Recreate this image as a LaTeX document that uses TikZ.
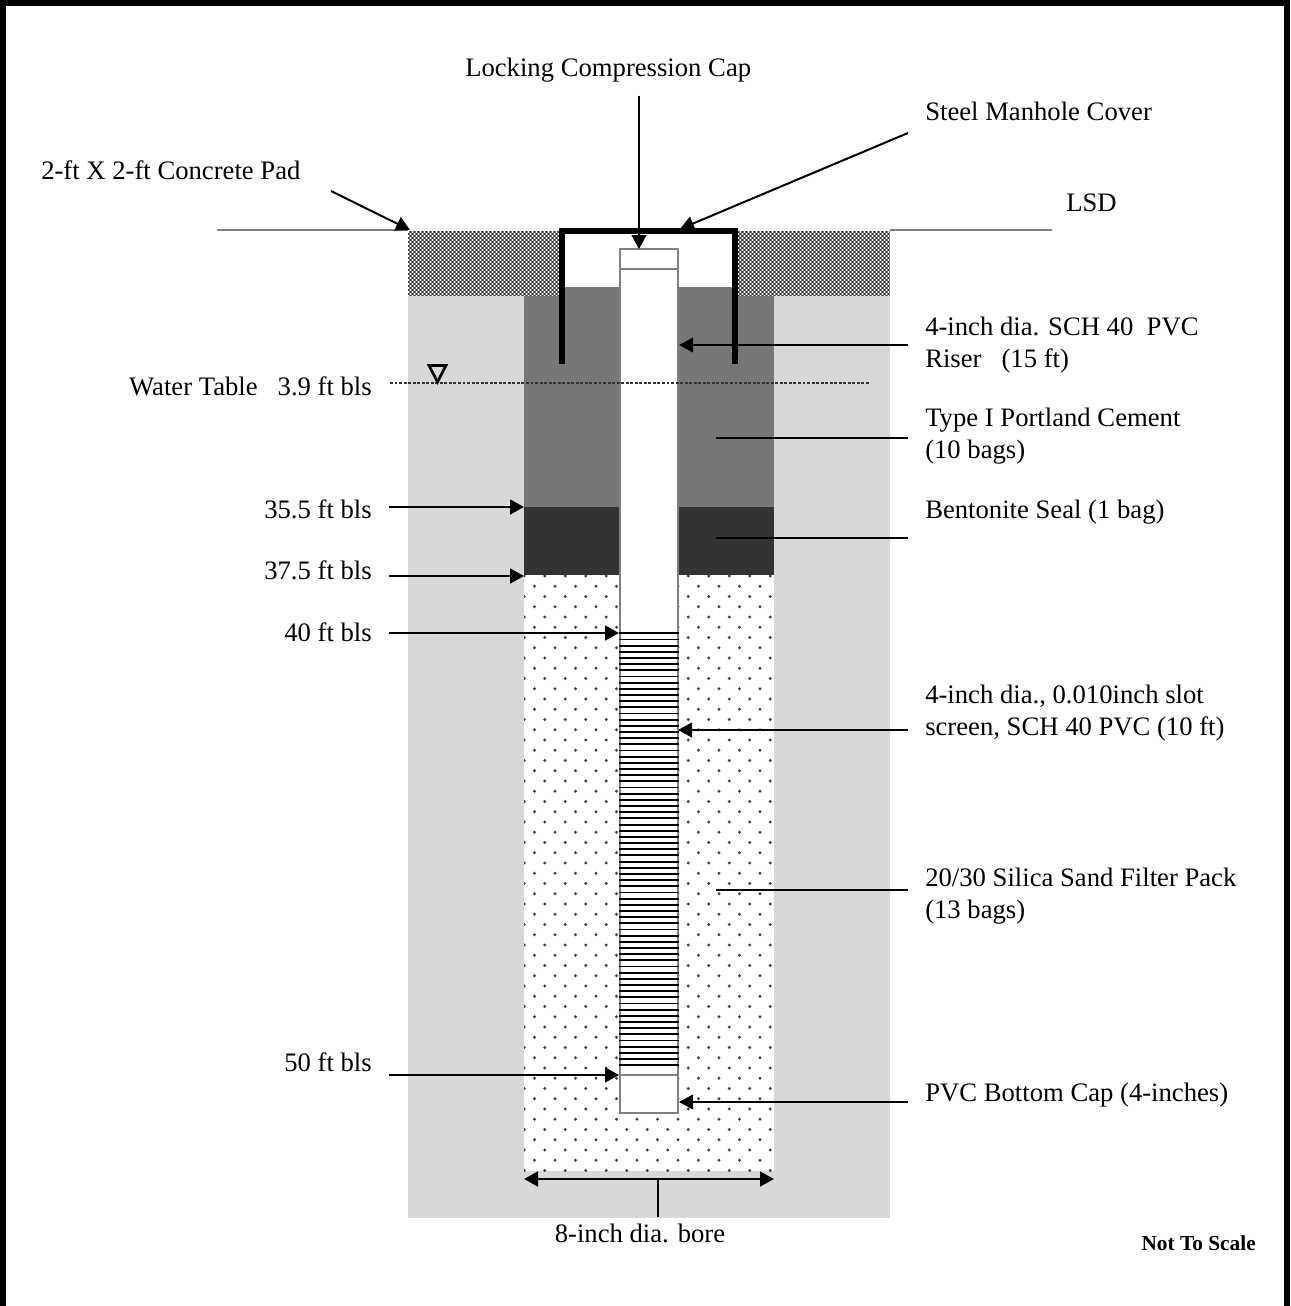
\documentclass[tikz,border=0pt]{standalone}
\usepackage{fontspec}
\setmainfont{Liberation Serif}
\usetikzlibrary{arrows.meta}
\definecolor{soil}{HTML}{D8D8D8}
\definecolor{cement}{HTML}{777777}
\definecolor{seal}{HTML}{333333}
\definecolor{pipe}{HTML}{808080}
\tikzset{
  lab/.style={font=\fontsize{20}{24}\selectfont,inner sep=0pt,anchor=base west},
  labr/.style={lab,anchor=base east},
  callout/.style={draw=black,line width=2pt,-{Triangle[length=10.5pt,width=11pt]}},
  calloutthin/.style={draw=black,line width=1.5pt,-{Triangle[length=10.5pt,width=11pt]}},
  leader/.style={draw=black,line width=1.6pt},
  pipeline/.style={draw=pipe,line width=2.1pt},
  slot/.style={draw=black,line width=1.4pt},
  cover/.style={draw=black,line width=4pt},
}
\begin{document}
\begin{tikzpicture}[x=0.75pt,y=-0.75pt]
\useasboundingbox (0,0) rectangle (1290,1306);
% frame: top, left, right
\fill[black] (0,0) rectangle (1290,6);
\fill[black] (0,0) rectangle (6,1306);
\fill[black] (1284,0) rectangle (1290,1306);
% soil
\fill[soil] (408,296) rectangle (890,1218);
% concrete pad
\fill[cement] (408,231) rectangle (562,296);
\fill[cement] (738,231) rectangle (890,296);
\begin{scope}
\clip (408,231) rectangle (562,296) (738,231) rectangle (890,296);
\foreach \r in {0,...,16}{
  \pgfmathsetmacro{\ya}{232+4*\r}
  \pgfmathsetmacro{\yb}{234+4*\r}
  \draw[white,line width=1.1pt,dash pattern=on 1.1pt off 1.9pt] (408,\ya) -- (890,\ya);
  \draw[black!80,line width=1.1pt,dash pattern=on 1.1pt off 1.9pt,dash phase=1.5pt] (408,\ya) -- (890,\ya);
  \draw[black!80,line width=1.1pt,dash pattern=on 1.1pt off 1.9pt] (408,\yb) -- (890,\yb);
  \draw[white,line width=1.1pt,dash pattern=on 1.1pt off 1.9pt,dash phase=1.5pt] (408,\yb) -- (890,\yb);
}
\end{scope}
% annulus
\fill[cement] (524,296) rectangle (774,507);
\fill[cement] (565,287) rectangle (735,296);
\fill[seal] (524,507) rectangle (774,575);
\fill[white] (524,575) rectangle (774,1171);
\begin{scope}
\clip (524,575) rectangle (774,1172);
\foreach \k in {0,...,58}{
  \pgfmathsetmacro{\yy}{576+10.25*\k}
  \pgfmathsetmacro{\xs}{mod(\k,2)==0 ? 524.3 : 534.5}
  \foreach \c in {0,...,12}{
    \fill[black!75] ({\xs+20.5*\c},\yy) circle[radius=1.6];
  }
}
\end{scope}
% land surface
\coordinate (lsdA) at (217,230);
\coordinate (lsdB) at (408,230);
\coordinate (lsdC) at (890,230);
\coordinate (lsdD) at (1052,230);
\draw[pipe,line width=1.4pt] (lsdA) -- (lsdB) (lsdC) -- (lsdD);
\draw[pipe,line width=1.4pt] (562,228.5) -- (735,228.5);
% casing
\fill[white] (620,249) rectangle (678,1113);
\draw[pipeline] (620,249) rectangle (678,1113);
\draw[pipeline] (620,269) -- (678,269);
\draw[pipeline] (620,1075) -- (678,1075);
\foreach \k in {0,...,70}{
  \pgfmathsetmacro{\yy}{633.3+6.17*\k}
  \draw[slot] (619,\yy) -- (679,\yy);
}
% manhole cover
\draw[cover,line cap=butt,line join=miter] (562,364) -- (562,231) -- (735,231) -- (735,364);
% water table
\coordinate (wtA) at (390,383);
\coordinate (wtB) at (870,383);
\draw[black!80,line width=0.8pt,dash pattern=on 2.2pt off 1.2pt] (wtA) -- (wtB);
\draw[black,line width=2pt,line join=miter] (429,365.5) -- (446,365.5) -- (437.5,382) -- cycle;
% labels
\node[lab] (lock) at (465,77) {Locking Compression Cap};
\node[lab] (steel) at (925,120) {Steel Manhole Cover};
\node[lab] (pad) at (41,179) {2-ft X 2-ft Concrete Pad};
\node[lab] (lsd) at (1066,211) {LSD};
\node[lab] (riserA) at (925,335) {4-inch dia. SCH 40\ \ PVC};
\node[lab] (riserB) at (925,367) {Riser\ \ \ (15 ft)};
\node[labr] (wt) at (372,395) {Water Table\ \ \ 3.9 ft bls};
\node[lab] (cemA) at (925,426) {Type I Portland Cement};
\node[lab] (cemB) at (925,458) {(10 bags)};
\node[lab] (ben) at (925,518) {Bentonite Seal (1 bag)};
\node[labr] (d35) at (372,518) {35.5 ft bls};
\node[labr] (d37) at (372,579) {37.5 ft bls};
\node[labr] (d40) at (372,641) {40 ft bls};
\node[lab] (scrA) at (925,703) {4-inch dia., 0.010inch slot};
\node[lab] (scrB) at (925,735) {screen, SCH 40 PVC (10 ft)};
\node[lab] (sandA) at (925,886) {20/30 Silica Sand Filter Pack};
\node[lab] (sandB) at (925,918) {(13 bags)};
\node[labr] (d50) at (372,1071) {50 ft bls};
\node[lab] (botcap) at (925,1101) {PVC Bottom Cap (4-inches)};
\node[lab,anchor=base] (bore) at (640,1242) {8-inch dia. bore};
\node[inner sep=0pt,anchor=base east,font=\fontsize{16}{18}\selectfont\bfseries] (nts) at (1256,1250) {Not To Scale};
% connector ends
\coordinate (lockS) at (639,96);   \coordinate (lockE) at (639,249);
\coordinate (steelS) at (908,133); \coordinate (steelE) at (680,229);
\coordinate (padS) at (331,191);   \coordinate (padE) at (410,230);
\coordinate (risS) at (908,345);   \coordinate (risE) at (679,345);
\coordinate (scrS) at (908,730);   \coordinate (scrE) at (678,730);
\coordinate (capS) at (908,1102);  \coordinate (capE) at (679,1102);
\coordinate (a35S) at (389,507);   \coordinate (a35E) at (524,507);
\coordinate (a37S) at (389,576);   \coordinate (a37E) at (524,576);
\coordinate (a40S) at (389,633);   \coordinate (a40E) at (619,633);
\coordinate (a50S) at (389,1075);  \coordinate (a50E) at (619,1075);
\coordinate (cemS) at (908,438);   \coordinate (cemE) at (716,438);
\coordinate (benS) at (908,538);   \coordinate (benE) at (716,538);
\coordinate (sanS) at (908,890);   \coordinate (sanE) at (716,890);
\coordinate (boreL) at (524,1179); \coordinate (boreR) at (774,1179);
\coordinate (boreM) at (658,1179); \coordinate (boreB) at (658,1217);
\draw[callout] (lockS) -- (lockE);
\draw[calloutthin] (steelS) -- (steelE);
\draw[calloutthin] (padS) -- (padE);
\draw[calloutthin] (risS) -- (risE);
\draw[calloutthin] (scrS) -- (scrE);
\draw[calloutthin] (capS) -- (capE);
\draw[callout] (a35S) -- (a35E);
\draw[callout] (a37S) -- (a37E);
\draw[callout] (a40S) -- (a40E);
\draw[callout] (a50S) -- (a50E);
\draw[leader] (cemS) -- (cemE);
\draw[leader] (benS) -- (benE);
\draw[leader] (sanS) -- (sanE);
\draw[callout,{Triangle[length=10.5pt,width=11pt]}-{Triangle[length=10.5pt,width=11pt]}] (boreL) -- (boreR);
\draw[leader,line width=2pt] (boreM) -- (boreB);
\end{tikzpicture}
\end{document}
